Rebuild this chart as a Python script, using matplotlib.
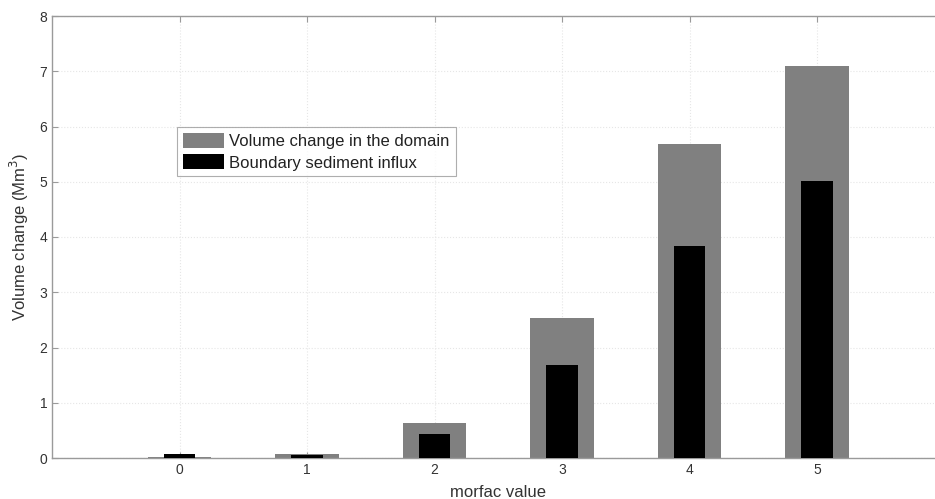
import matplotlib.pyplot as plt
from matplotlib.ticker import MultipleLocator

plt.rcParams['font.family'] = ['Liberation Sans', 'DejaVu Sans']

# morfac values and volumes (Mm^3)
morfac = [0, 1, 2, 3, 4, 5]
domain_change = [0.02, 0.08, 0.64, 2.53, 5.68, 7.09]
boundary_influx = [0.08, 0.05, 0.43, 1.68, 3.84, 5.02]

fig = plt.figure(figsize=(9.35, 4.99), dpi=100)
W, H = 935, 499
ax = fig.add_axes([52 / W, 41 / H, 892.5 / W, 442 / H])

ax.bar(morfac, domain_change, width=0.5, color='#808080', label='Volume change in the domain', zorder=2)
ax.bar(morfac, boundary_influx, width=0.25, color='black', label='Boundary sediment influx', zorder=3)

ax.set_xlim(-1, 6)
ax.set_ylim(0, 8)
ax.set_xticks(morfac)
ax.yaxis.set_major_locator(MultipleLocator(1))
ax.grid(True, linestyle=':', color='#e6e6e6', linewidth=0.8, zorder=0)

for s in ax.spines.values():
    s.set_color('#9a9a9a')
    s.set_linewidth(1.0)
ax.tick_params(direction='in', top=True, right=True, length=4, color='#9a9a9a',
               labelsize=10, labelcolor='#333333')

ax.set_xlabel('morfac value', fontsize=12, color='#333333', labelpad=6)
ax.set_ylabel('Volume change (Mm$^3$)', fontsize=12, color='#333333', labelpad=6)

leg = ax.legend(loc='upper left', bbox_to_anchor=(0.140, 0.748), fontsize=12,
                frameon=True, fancybox=False, handlelength=2.5, handleheight=1.0,
                handletextpad=0.3, labelspacing=0.3, borderpad=0.35, borderaxespad=0)
leg.get_frame().set_edgecolor('#9a9a9a')
leg.get_frame().set_linewidth(0.8)
for t in leg.get_texts():
    t.set_color('#222222')

fig.savefig('out.png', dpi=100)
